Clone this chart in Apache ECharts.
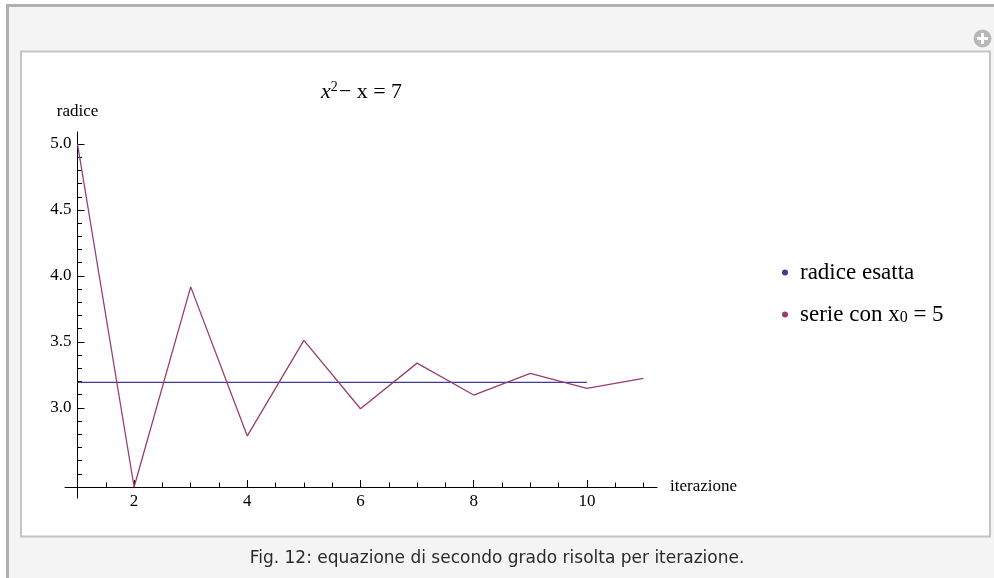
<!DOCTYPE html>
<html>
<head>
<meta charset="utf-8">
<script src="https://cdn.jsdelivr.net/npm/echarts@6/dist/echarts.min.js"></script>
<style>
html,body{margin:0;padding:0;background:#fff;}
#c{width:994px;height:578px;}
</style>
</head>
<body>
<div id="c"></div>
<script>
// ---- data ----
var iterations = [1, 2, 3, 4, 5, 6, 7, 8, 9, 10, 11];
var serieValues = [5.0, 2.4, 3.917, 2.787, 3.512, 2.993, 3.339, 3.097, 3.261, 3.147, 3.224];
var exactRootX = [1, 10];
var exactRootValue = 3.193;
var xTickLabels = [2, 4, 6, 8, 10];
var xMinorTicks = [1.5, 2.5, 3, 3.5, 4.5, 5, 5.5, 6.5, 7, 7.5, 8.5, 9, 9.5, 10.5, 11];
var yTickLabels = [3.0, 3.5, 4.0, 4.5, 5.0];
var yMinorTicks = [2.5, 2.6, 2.7, 2.8, 2.9, 3.1, 3.2, 3.3, 3.4, 3.6, 3.7, 3.8, 3.9, 4.1, 4.2, 4.3, 4.4, 4.6, 4.7, 4.8, 4.9];
var seriesNames = ['radice esatta', 'serie con x0 = 5'];

var serieData = iterations.map(function (x, i) { return [x, serieValues[i]]; });
var rootData = exactRootX.map(function (x) { return [x, exactRootValue]; });

var SERIF = '"Liberation Serif", "DejaVu Serif", serif';
var blue = '#3d3d99';
var purple = '#993d71';

var chart = echarts.init(document.getElementById('c'));
var xMin = 0.7792, xMax = 11.2386, yMin = 2.3167, yMax = 5.0909;

function xAxisBase(extra) {
  return Object.assign({
    type: 'value', gridIndex: 0, position: 'bottom', offset: -11,
    min: xMin, max: xMax,
    splitLine: { show: false }
  }, extra);
}
function yAxisBase(extra) {
  return Object.assign({
    type: 'value', gridIndex: 0, position: 'left', offset: -12.5,
    min: yMin, max: yMax,
    splitLine: { show: false }
  }, extra);
}

chart.setOption({
  animation: false,
  backgroundColor: '#ffffff',
  graphic: [
    { type: 'rect', z: -100, shape: { x: 7.5, y: 5.5, width: 1000, height: 600 },
      style: { fill: '#f4f4f4', stroke: '#b0b0b0', lineWidth: 3 } },
    { type: 'rect', z: -99, shape: { x: 21, y: 51.5, width: 969, height: 485 },
      style: { fill: '#ffffff', stroke: '#c4c4c4', lineWidth: 2 } },
    { type: 'circle', z: -98, shape: { cx: 982.5, cy: 38.5, r: 9 }, style: { fill: '#b8b8b8' } },
    { type: 'rect', z: -97, shape: { x: 977, y: 37.1, width: 11, height: 2.9 }, style: { fill: '#ffffff' } },
    { type: 'rect', z: -97, shape: { x: 981.05, y: 33, width: 2.9, height: 11 }, style: { fill: '#ffffff' } },
    { type: 'text', left: 'center', top: 550,
      style: { text: 'Fig. 12: equazione di secondo grado risolta per iterazione.',
        font: '17px "DejaVu Sans"', fill: '#2a2a2a' } }
  ],
  title: {
    left: 316, top: 75,
    text: '{i|x}{s|2}{n|− x = 7}',
    textStyle: {
      fontWeight: 'normal',
      rich: {
        i: { fontFamily: SERIF, fontStyle: 'italic', fontWeight: 'normal', fontSize: 22, color: '#000' },
        s: { fontFamily: SERIF, fontWeight: 'normal', fontSize: 14, color: '#000', verticalAlign: 'top', padding: [0, 1, 10, 0] },
        n: { fontFamily: SERIF, fontWeight: 'normal', fontSize: 22, color: '#000' }
      }
    }
  },
  legend: {
    orient: 'vertical', left: 777, top: 256,
    icon: 'circle', itemWidth: 6, itemHeight: 6, itemGap: 19,
    data: seriesNames,
    formatter: function (name) {
      if (name === seriesNames[1]) return '{a|serie con x}{b|0}{c| = 5}';
      return '{a|' + name + '}';
    },
    textStyle: {
      rich: {
        a: { fontFamily: SERIF, fontSize: 23, color: '#000', padding: [0, 0, 0, 7] },
        b: { fontFamily: SERIF, fontSize: 16, color: '#000', verticalAlign: 'bottom' },
        c: { fontFamily: SERIF, fontSize: 23, color: '#000' }
      }
    }
  },
  grid: { left: 65, right: 337, top: 132, bottom: 80, containLabel: false },
  xAxis: [
    xAxisBase({
      name: 'iterazione', nameLocation: 'end', nameGap: 13,
      nameTextStyle: { fontFamily: SERIF, fontSize: 17, color: '#000', verticalAlign: 'middle' },
      axisLine: { show: true, lineStyle: { color: '#000', width: 1 } },
      axisTick: { show: true, inside: true, length: 7, customValues: xTickLabels, lineStyle: { color: '#000' } },
      axisLabel: { show: true, customValues: xTickLabels, margin: 6,
        fontFamily: SERIF, fontSize: 17, color: '#000' }
    }),
    xAxisBase({
      axisLine: { show: false },
      axisTick: { show: true, inside: true, length: 4.5, customValues: xMinorTicks, lineStyle: { color: '#000' } },
      axisLabel: { show: false }
    })
  ],
  yAxis: [
    yAxisBase({
      name: 'radice', nameLocation: 'end', nameGap: 12,
      nameTextStyle: { fontFamily: SERIF, fontSize: 17, color: '#000', align: 'center' },
      axisLine: { show: true, lineStyle: { color: '#000', width: 1 } },
      axisTick: { show: true, inside: true, length: 7, customValues: yTickLabels, lineStyle: { color: '#000' } },
      axisLabel: { show: true, customValues: yTickLabels, margin: 6,
        fontFamily: SERIF, fontSize: 17, color: '#000',
        formatter: function (v) { return v.toFixed(1); } }
    }),
    yAxisBase({
      axisLine: { show: false },
      axisTick: { show: true, inside: true, length: 4.5, customValues: yMinorTicks, lineStyle: { color: '#000' } },
      axisLabel: { show: false }
    })
  ],
  series: [
    { name: seriesNames[0], type: 'line', xAxisIndex: 0, yAxisIndex: 0,
      data: rootData, showSymbol: false, symbol: 'none', color: blue,
      lineStyle: { color: blue, width: 1.3 } },
    { name: seriesNames[1], type: 'line', xAxisIndex: 0, yAxisIndex: 0,
      data: serieData, showSymbol: false, symbol: 'none', color: purple,
      lineStyle: { color: purple, width: 1.3 } }
  ]
});
</script>
</body>
</html>
